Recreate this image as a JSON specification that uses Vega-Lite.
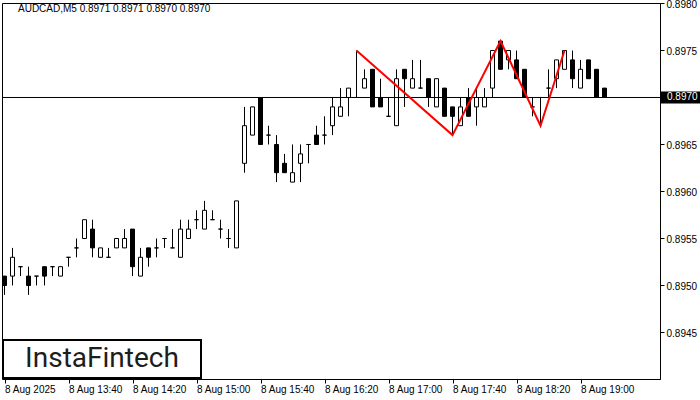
{
  "$schema": "https://vega.github.io/schema/vega-lite/v6.json",
  "width": 658,
  "height": 376,
  "autosize": {"type": "none"},
  "padding": {"left": 2, "top": 3, "right": 40, "bottom": 21},
  "background": "white",
  "config": {
    "view": {"stroke": "black", "strokeWidth": 1},
    "font": "Liberation Sans",
    "scale": {"continuousPadding": 0},
    "axis": {"grid": false, "labelColor": "black", "tickColor": "black", "domainColor": "black", "labelFont": "Liberation Sans", "labelFontSize": 10, "title": null}
  },
  "datasets": {
    "bars": [
      {"t": "2025-08-08T13:00:00", "o": 0.8951, "h": 0.8951, "l": 0.8949, "c": 0.8950},
      {"t": "2025-08-08T13:05:00", "o": 0.8951, "h": 0.8954, "l": 0.8950, "c": 0.8953},
      {"t": "2025-08-08T13:10:00", "o": 0.8952, "h": 0.8952, "l": 0.8951, "c": 0.8952},
      {"t": "2025-08-08T13:15:00", "o": 0.8951, "h": 0.8952, "l": 0.8949, "c": 0.8950},
      {"t": "2025-08-08T13:20:00", "o": 0.8951, "h": 0.8951, "l": 0.8950, "c": 0.8951},
      {"t": "2025-08-08T13:25:00", "o": 0.8952, "h": 0.8952, "l": 0.8950, "c": 0.8951},
      {"t": "2025-08-08T13:30:00", "o": 0.8952, "h": 0.8952, "l": 0.8951, "c": 0.8952},
      {"t": "2025-08-08T13:35:00", "o": 0.8951, "h": 0.8952, "l": 0.8951, "c": 0.8952},
      {"t": "2025-08-08T13:40:00", "o": 0.8953, "h": 0.8953, "l": 0.8952, "c": 0.8953},
      {"t": "2025-08-08T13:45:00", "o": 0.8954, "h": 0.8955, "l": 0.8953, "c": 0.8954},
      {"t": "2025-08-08T13:50:00", "o": 0.8955, "h": 0.8957, "l": 0.8955, "c": 0.8957},
      {"t": "2025-08-08T13:55:00", "o": 0.8956, "h": 0.8957, "l": 0.8953, "c": 0.8954},
      {"t": "2025-08-08T14:00:00", "o": 0.8953, "h": 0.8954, "l": 0.8953, "c": 0.8954},
      {"t": "2025-08-08T14:05:00", "o": 0.8953, "h": 0.8954, "l": 0.8953, "c": 0.8953},
      {"t": "2025-08-08T14:10:00", "o": 0.8954, "h": 0.8955, "l": 0.8954, "c": 0.8955},
      {"t": "2025-08-08T14:15:00", "o": 0.8954, "h": 0.8956, "l": 0.8954, "c": 0.8955},
      {"t": "2025-08-08T14:20:00", "o": 0.8956, "h": 0.8956, "l": 0.8951, "c": 0.8952},
      {"t": "2025-08-08T14:25:00", "o": 0.8951, "h": 0.8954, "l": 0.8951, "c": 0.8953},
      {"t": "2025-08-08T14:30:00", "o": 0.8954, "h": 0.8954, "l": 0.8952, "c": 0.8953},
      {"t": "2025-08-08T14:35:00", "o": 0.8954, "h": 0.8955, "l": 0.8953, "c": 0.8954},
      {"t": "2025-08-08T14:40:00", "o": 0.8955, "h": 0.8955, "l": 0.8954, "c": 0.8955},
      {"t": "2025-08-08T14:45:00", "o": 0.8954, "h": 0.8956, "l": 0.8954, "c": 0.8954},
      {"t": "2025-08-08T14:50:00", "o": 0.8953, "h": 0.8957, "l": 0.8953, "c": 0.8956},
      {"t": "2025-08-08T14:55:00", "o": 0.8955, "h": 0.8957, "l": 0.8955, "c": 0.8956},
      {"t": "2025-08-08T15:00:00", "o": 0.8957, "h": 0.8958, "l": 0.8956, "c": 0.8957},
      {"t": "2025-08-08T15:05:00", "o": 0.8956, "h": 0.8959, "l": 0.8956, "c": 0.8958},
      {"t": "2025-08-08T15:10:00", "o": 0.8957, "h": 0.8958, "l": 0.8957, "c": 0.8957},
      {"t": "2025-08-08T15:15:00", "o": 0.8956, "h": 0.8957, "l": 0.8955, "c": 0.8956},
      {"t": "2025-08-08T15:20:00", "o": 0.8955, "h": 0.8956, "l": 0.8954, "c": 0.8955},
      {"t": "2025-08-08T15:25:00", "o": 0.8954, "h": 0.8959, "l": 0.8954, "c": 0.8959},
      {"t": "2025-08-08T15:30:00", "o": 0.8963, "h": 0.8969, "l": 0.8962, "c": 0.8967},
      {"t": "2025-08-08T15:35:00", "o": 0.8966, "h": 0.8969, "l": 0.8966, "c": 0.8969},
      {"t": "2025-08-08T15:40:00", "o": 0.8970, "h": 0.8970, "l": 0.8965, "c": 0.8965},
      {"t": "2025-08-08T15:45:00", "o": 0.8966, "h": 0.8967, "l": 0.8965, "c": 0.8966},
      {"t": "2025-08-08T15:50:00", "o": 0.8965, "h": 0.8966, "l": 0.8961, "c": 0.8962},
      {"t": "2025-08-08T15:55:00", "o": 0.8963, "h": 0.8964, "l": 0.8962, "c": 0.8962},
      {"t": "2025-08-08T16:00:00", "o": 0.8961, "h": 0.8965, "l": 0.8961, "c": 0.8962},
      {"t": "2025-08-08T16:05:00", "o": 0.8963, "h": 0.8965, "l": 0.8961, "c": 0.8964},
      {"t": "2025-08-08T16:10:00", "o": 0.8965, "h": 0.8965, "l": 0.8963, "c": 0.8965},
      {"t": "2025-08-08T16:15:00", "o": 0.8966, "h": 0.8967, "l": 0.8965, "c": 0.8965},
      {"t": "2025-08-08T16:20:00", "o": 0.8966, "h": 0.8968, "l": 0.8965, "c": 0.8966},
      {"t": "2025-08-08T16:25:00", "o": 0.8967, "h": 0.8970, "l": 0.8966, "c": 0.8969},
      {"t": "2025-08-08T16:30:00", "o": 0.8968, "h": 0.8971, "l": 0.8968, "c": 0.8969},
      {"t": "2025-08-08T16:35:00", "o": 0.8970, "h": 0.8971, "l": 0.8968, "c": 0.8971},
      {"t": "2025-08-08T16:40:00", "o": 0.8970, "h": 0.8975, "l": 0.8970, "c": 0.8970},
      {"t": "2025-08-08T16:45:00", "o": 0.8971, "h": 0.8973, "l": 0.8971, "c": 0.8972},
      {"t": "2025-08-08T16:50:00", "o": 0.8973, "h": 0.8973, "l": 0.8969, "c": 0.8969},
      {"t": "2025-08-08T16:55:00", "o": 0.8970, "h": 0.8972, "l": 0.8969, "c": 0.8969},
      {"t": "2025-08-08T17:00:00", "o": 0.8968, "h": 0.8970, "l": 0.8968, "c": 0.8968},
      {"t": "2025-08-08T17:05:00", "o": 0.8967, "h": 0.8973, "l": 0.8967, "c": 0.8972},
      {"t": "2025-08-08T17:10:00", "o": 0.8973, "h": 0.8973, "l": 0.8969, "c": 0.8972},
      {"t": "2025-08-08T17:15:00", "o": 0.8971, "h": 0.8974, "l": 0.8971, "c": 0.8972},
      {"t": "2025-08-08T17:20:00", "o": 0.8971, "h": 0.8974, "l": 0.8971, "c": 0.8971},
      {"t": "2025-08-08T17:25:00", "o": 0.8972, "h": 0.8972, "l": 0.8969, "c": 0.8970},
      {"t": "2025-08-08T17:30:00", "o": 0.8969, "h": 0.8972, "l": 0.8969, "c": 0.8972},
      {"t": "2025-08-08T17:35:00", "o": 0.8971, "h": 0.8971, "l": 0.8968, "c": 0.8968},
      {"t": "2025-08-08T17:40:00", "o": 0.8969, "h": 0.8969, "l": 0.8966, "c": 0.8968},
      {"t": "2025-08-08T17:45:00", "o": 0.8967, "h": 0.8970, "l": 0.8967, "c": 0.8969},
      {"t": "2025-08-08T17:50:00", "o": 0.8970, "h": 0.8971, "l": 0.8968, "c": 0.8968},
      {"t": "2025-08-08T17:55:00", "o": 0.8969, "h": 0.8971, "l": 0.8967, "c": 0.8970},
      {"t": "2025-08-08T18:00:00", "o": 0.8969, "h": 0.8971, "l": 0.8969, "c": 0.8970},
      {"t": "2025-08-08T18:05:00", "o": 0.8971, "h": 0.8975, "l": 0.8970, "c": 0.8975},
      {"t": "2025-08-08T18:10:00", "o": 0.8976, "h": 0.8976, "l": 0.8973, "c": 0.8973},
      {"t": "2025-08-08T18:15:00", "o": 0.8974, "h": 0.8975, "l": 0.8973, "c": 0.8975},
      {"t": "2025-08-08T18:20:00", "o": 0.8974, "h": 0.8975, "l": 0.8972, "c": 0.8972},
      {"t": "2025-08-08T18:25:00", "o": 0.8973, "h": 0.8973, "l": 0.8970, "c": 0.8970},
      {"t": "2025-08-08T18:30:00", "o": 0.8969, "h": 0.8970, "l": 0.8968, "c": 0.8969},
      {"t": "2025-08-08T18:35:00", "o": 0.8970, "h": 0.8970, "l": 0.8967, "c": 0.8970},
      {"t": "2025-08-08T18:40:00", "o": 0.8971, "h": 0.8973, "l": 0.8970, "c": 0.8971},
      {"t": "2025-08-08T18:45:00", "o": 0.8972, "h": 0.8974, "l": 0.8971, "c": 0.8974},
      {"t": "2025-08-08T18:50:00", "o": 0.8973, "h": 0.8975, "l": 0.8973, "c": 0.8975},
      {"t": "2025-08-08T18:55:00", "o": 0.8974, "h": 0.8975, "l": 0.8971, "c": 0.8972},
      {"t": "2025-08-08T19:00:00", "o": 0.8971, "h": 0.8974, "l": 0.8971, "c": 0.8973},
      {"t": "2025-08-08T19:05:00", "o": 0.8974, "h": 0.8974, "l": 0.8972, "c": 0.8972},
      {"t": "2025-08-08T19:10:00", "o": 0.8973, "h": 0.8973, "l": 0.8970, "c": 0.8970},
      {"t": "2025-08-08T19:15:00", "o": 0.8971, "h": 0.8971, "l": 0.8970, "c": 0.8970}
    ],
    "pattern": [
      {"t": "2025-08-08T16:40:00", "p": 0.8975},
      {"t": "2025-08-08T17:40:00", "p": 0.8966},
      {"t": "2025-08-08T18:10:00", "p": 0.8976},
      {"t": "2025-08-08T18:35:00", "p": 0.8967},
      {"t": "2025-08-08T18:50:00", "p": 0.8975}
    ],
    "one": [{}]
  },
  "layer": [
    {
      "data": {"name": "bars"},
      "mark": {"type": "rule", "color": "black", "strokeWidth": 1},
      "encoding": {
        "x": {
          "field": "t", "type": "temporal",
          "scale": {"padding": 0, "domain": [{"year": 2025, "month": 8, "date": 8, "hours": 12, "minutes": 58, "seconds": 26, "milliseconds": 250}, {"year": 2025, "month": 8, "date": 8, "hours": 19, "minutes": 49, "seconds": 41, "milliseconds": 250}]},
          "axis": {
            "orient": "bottom",
            "domain": false,
            "tickSize": 4,
            "labelAlign": "left",
            "labelBaseline": "top",
            "labelPadding": 1,
            "labelFlush": false,
            "labelOverlap": false,
            "values": [
              {"year": 2025, "month": 8, "date": 8, "hours": 13, "minutes": 0},
              {"year": 2025, "month": 8, "date": 8, "hours": 13, "minutes": 40},
              {"year": 2025, "month": 8, "date": 8, "hours": 14, "minutes": 20},
              {"year": 2025, "month": 8, "date": 8, "hours": 15, "minutes": 0},
              {"year": 2025, "month": 8, "date": 8, "hours": 15, "minutes": 40},
              {"year": 2025, "month": 8, "date": 8, "hours": 16, "minutes": 20},
              {"year": 2025, "month": 8, "date": 8, "hours": 17, "minutes": 0},
              {"year": 2025, "month": 8, "date": 8, "hours": 17, "minutes": 40},
              {"year": 2025, "month": 8, "date": 8, "hours": 18, "minutes": 20},
              {"year": 2025, "month": 8, "date": 8, "hours": 19, "minutes": 0}
            ],
            "labelExpr": "hours(datum.value) == 13 && minutes(datum.value) == 0 ? '8 Aug 2025' : timeFormat(datum.value, '%-d %b %H:%M')"
          }
        },
        "y": {
          "field": "l", "type": "quantitative",
          "scale": {"padding": 0, "domain": [0.8940053, 0.8980053], "zero": false, "nice": false},
          "axis": {
            "orient": "right",
            "domain": true,
            "tickSize": 4,
            "labelPadding": 2,
            "labelBaseline": "middle",
            "labelOffset": 1,
            "format": ".4f",
            "values": [0.8945, 0.895, 0.8955, 0.896, 0.8965, 0.8975, 0.898]
          }
        },
        "y2": {"field": "h"}
      }
    },
    {
      "data": {"name": "bars"},
      "mark": {"type": "bar", "width": 4, "stroke": "black", "strokeWidth": 1},
      "encoding": {
        "x": {"field": "t", "type": "temporal"},
        "y": {"field": "o", "type": "quantitative"},
        "y2": {"field": "c"},
        "fill": {"condition": {"test": "datum.c < datum.o", "value": "black"}, "value": "white"}
      }
    },
    {
      "data": {"name": "one"},
      "mark": {"type": "rule", "color": "black", "strokeWidth": 1},
      "encoding": {
        "y": {"datum": 0.897, "type": "quantitative"}
      }
    },
    {
      "data": {"name": "pattern"},
      "mark": {"type": "line", "color": "#ff0000", "strokeWidth": 2},
      "encoding": {
        "x": {"field": "t", "type": "temporal"},
        "y": {"field": "p", "type": "quantitative"}
      }
    },
    {
      "data": {"name": "one"},
      "mark": {"type": "text", "align": "left", "baseline": "middle", "fontSize": 10, "font": "Liberation Sans", "color": "black"},
      "encoding": {
        "x": {"datum": {"year": 2025, "month": 8, "date": 8, "hours": 13, "minutes": 8, "seconds": 26}, "type": "temporal"},
        "y": {"datum": 0.8979362, "type": "quantitative"},
        "text": {"value": "AUDCAD,M5  0.8971 0.8971 0.8970 0.8970"}
      }
    },
    {
      "data": {"name": "one"},
      "mark": {"type": "rect", "fill": "white", "stroke": "black", "strokeWidth": 2},
      "encoding": {
        "x": {"datum": {"year": 2025, "month": 8, "date": 8, "hours": 12, "minutes": 59, "seconds": 4}, "type": "temporal"},
        "x2": {"datum": {"year": 2025, "month": 8, "date": 8, "hours": 15, "minutes": 2, "seconds": 49}},
        "y": {"datum": 0.8944202, "type": "quantitative"},
        "y2": {"datum": 0.8940159}
      }
    },
    {
      "data": {"name": "one"},
      "mark": {"type": "text", "align": "center", "baseline": "middle", "fontSize": 28, "font": "Roboto", "color": "#1d1d1b"},
      "encoding": {
        "x": {"datum": {"year": 2025, "month": 8, "date": 8, "hours": 14, "minutes": 0, "seconds": 56}, "type": "temporal"},
        "y": {"datum": 0.8942181, "type": "quantitative"},
        "text": {"value": "InstaFintech"}
      }
    },
    {
      "data": {"name": "one"},
      "mark": {"type": "rect", "fill": "black", "clip": false},
      "encoding": {
        "x": {"datum": {"year": 2025, "month": 8, "date": 8, "hours": 19, "minutes": 50, "seconds": 19}, "type": "temporal"},
        "x2": {"datum": {"year": 2025, "month": 8, "date": 8, "hours": 20, "minutes": 14, "seconds": 41}},
        "y": {"datum": 0.8970638, "type": "quantitative"},
        "y2": {"datum": 0.8969362}
      }
    },
    {
      "data": {"name": "one"},
      "mark": {"type": "text", "align": "left", "baseline": "middle", "fontSize": 10, "font": "Liberation Sans", "color": "white", "clip": false},
      "encoding": {
        "x": {"datum": {"year": 2025, "month": 8, "date": 8, "hours": 19, "minutes": 54, "seconds": 4}, "type": "temporal"},
        "y": {"datum": 0.897, "type": "quantitative"},
        "text": {"value": "0.8970"}
      }
    }
  ]
}
